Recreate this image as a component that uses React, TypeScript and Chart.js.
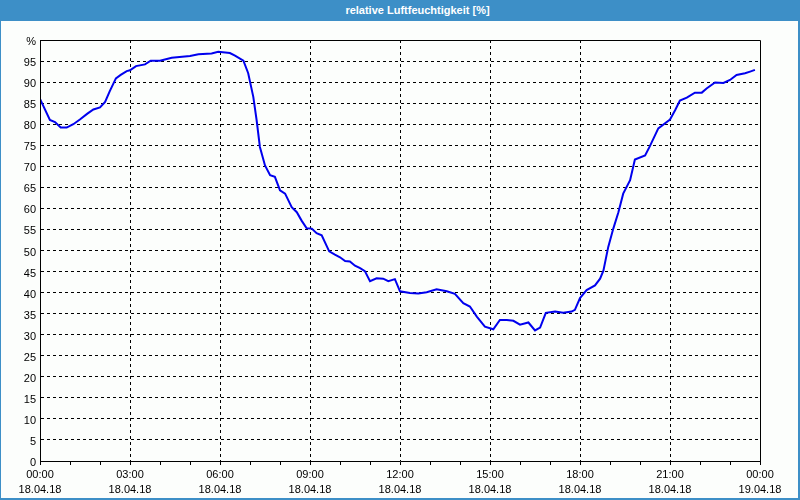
import React, { useEffect, useRef } from "react";
import { Chart, registerables } from "chart.js";

Chart.register(...registerables);

const chartTitle = "relative Luftfeuchtigkeit [%]";
const yUnitLabel = "%";

// time of day in hours since 18.04.18 00:00
const hours = [
  0.0, 0.33, 0.5, 0.69, 0.89, 1.11, 1.33, 1.58, 1.78, 2.0, 2.17, 2.33, 2.53, 2.69, 2.89, 3.0,
  3.2, 3.5, 3.69, 4.0, 4.39, 5.0, 5.28, 5.72, 5.94, 6.33, 6.5, 6.78, 6.94, 7.11, 7.22, 7.33,
  7.5, 7.67, 7.83, 8.0, 8.17, 8.39, 8.56, 8.72, 8.89, 9.06, 9.22, 9.39, 9.64, 9.83, 10.0,
  10.17, 10.33, 10.5, 10.67, 10.83, 11.0, 11.22, 11.44, 11.61, 11.83, 12.0, 12.33, 12.61,
  12.89, 13.22, 13.56, 13.83, 14.11, 14.33, 14.56, 14.83, 15.11, 15.33, 15.56, 15.78, 16.0,
  16.28, 16.5, 16.67, 16.86, 17.17, 17.44, 17.72, 17.83, 18.0, 18.22, 18.5, 18.67, 18.78,
  18.94, 19.11, 19.28, 19.44, 19.67, 19.83, 20.17, 20.33, 20.61, 21.0, 21.17, 21.33, 21.56,
  21.83, 22.06, 22.22, 22.5, 22.78, 23.0, 23.22, 23.5, 23.67, 23.83,
];

// relative humidity in %
const humidity = [
  86.0, 81.0, 80.5, 79.2, 79.2, 80.0, 81.1, 82.5, 83.5, 84.0, 85.3, 87.9, 90.9, 91.7, 92.6, 92.8,
  93.8, 94.2, 95.1, 95.1, 95.8, 96.2, 96.6, 96.8, 97.2, 96.9, 96.3, 95.1, 92.1, 86.5, 81.0, 74.6,
  70.2, 67.9, 67.5, 64.3, 63.5, 60.3, 59.1, 57.1, 55.3, 55.2, 54.1, 53.6, 49.8, 49.0, 48.4,
  47.5, 47.4, 46.4, 45.8, 45.1, 42.7, 43.4, 43.3, 42.7, 43.2, 40.3, 39.9, 39.8,
  40.1, 40.8, 40.3, 39.7, 37.5, 36.7, 34.3, 31.9, 31.3, 33.5, 33.5, 33.3, 32.4,
  32.9, 31.0, 31.7, 35.2, 35.5, 35.2, 35.5, 35.9, 38.7, 40.6, 41.7, 43.3, 45.2,
  50.8, 55.2, 59.1, 63.5, 66.7, 71.6, 72.6, 74.8, 79.0, 81.1, 83.3, 85.6, 86.3,
  87.5, 87.5, 88.5, 89.9, 89.8, 90.5, 91.7, 92.1, 92.5, 92.9,
];

const xLabelHours = [0, 3, 6, 9, 12, 15, 18, 21, 24];
const timeLabels = ["00:00", "03:00", "06:00", "09:00", "12:00", "15:00", "18:00", "21:00", "00:00"];
const dateLabels = [
  "18.04.18", "18.04.18", "18.04.18", "18.04.18", "18.04.18",
  "18.04.18", "18.04.18", "18.04.18", "19.04.18",
];

const FONT = "'Liberation Sans', Arial, sans-serif";

const framePlugin = {
  id: "frame",
  afterDatasetsDraw(chart: any) {
    const { ctx, chartArea } = chart;
    const l = Math.round(chartArea.left) + 0.5;
    const t = Math.round(chartArea.top) + 0.5;
    const r = Math.round(chartArea.right) + 0.5;
    const b = Math.round(chartArea.bottom) + 0.5;
    ctx.save();
    ctx.strokeStyle = "#000";
    ctx.lineWidth = 1;
    ctx.beginPath();
    ctx.moveTo(l, b);
    ctx.lineTo(l, t);
    ctx.lineTo(r, t);
    ctx.lineTo(r, b);
    ctx.stroke();
    ctx.restore();
  },
};

export default function App() {
  const ref = useRef<HTMLCanvasElement | null>(null);

  useEffect(() => {
    if (!ref.current) return;
    const chart = new Chart(ref.current, {
      type: "line",
      data: {
        datasets: [
          {
            data: hours.map((h, i) => ({ x: h, y: humidity[i] })),
            borderColor: "#0000ee",
            borderWidth: 2,
            pointRadius: 0,
            tension: 0,
            fill: false,
          },
        ],
      },
      options: {
        animation: false,
        responsive: false,
        devicePixelRatio: 1,
        layout: { padding: { top: 19, right: 38, left: 0, bottom: 0 } },
        plugins: {
          legend: { display: false },
          title: { display: false },
          tooltip: { enabled: false },
        },
        scales: {
          x: {
            type: "linear",
            min: 0,
            max: 24,
            afterFit: (s: any) => {
              s.height = 37;
            },
            afterBuildTicks: (s: any) => {
              const t = [];
              for (let h = 0; h <= 24; h++) t.push({ value: h });
              s.ticks = t;
            },
            ticks: {
              autoSkip: false,
              maxRotation: 0,
              minRotation: 0,
              padding: 3,
              color: "#000",
              font: { family: FONT, size: 11, lineHeight: 1.35 },
              callback: (v: any) => {
                const idx = xLabelHours.indexOf(Number(v));
                return idx >= 0 ? [timeLabels[idx], dateLabels[idx]] : "";
              },
            },
            grid: {
              color: (c: any) => {
                const v = c.tick ? c.tick.value : -1;
                return v % 3 === 0 && v !== 0 && v !== 24 ? "#000" : "rgba(0,0,0,0)";
              },
              tickColor: "#000",
              tickLength: 4,
              tickBorderDash: [],
            },
            border: { display: true, color: "#000", dash: [3, 3] },
          },
          y: {
            type: "linear",
            min: 0,
            max: 100,
            afterFit: (s: any) => {
              s.width = 39;
            },
            ticks: {
              stepSize: 5,
              padding: 4,
              labelOffset: 2,
              color: "#000",
              font: { family: FONT, size: 11 },
              callback: (v: any) => (Number(v) === 100 ? yUnitLabel : String(v)),
            },
            grid: {
              drawTicks: false,
              color: (c: any) => {
                const v = c.tick ? c.tick.value : -1;
                return v > 0 && v < 100 ? "#000" : "rgba(0,0,0,0)";
              },
            },
            border: { display: true, color: "#000", dash: [3, 3] },
          },
        },
      },
      plugins: [framePlugin],
    });
    return () => chart.destroy();
  }, []);

  return (
    <div
      style={{
        position: "fixed",
        left: 0,
        top: 0,
        width: 800,
        height: 500,
        boxSizing: "border-box",
        borderLeft: "1px solid #3d8fc7",
        borderRight: "2px solid #3d8fc7",
        borderBottom: "2px solid #3d8fc7",
        background: "#fcfefc",
        overflow: "hidden",
      }}
    >
      <div
        style={{
          height: 21,
          lineHeight: "21px",
          background: "#3d8fc7",
          color: "#fff",
          fontFamily: FONT,
          fontWeight: "bold",
          fontSize: 11,
          textAlign: "center",
          paddingLeft: 36,
          boxSizing: "border-box",
        }}
      >
        {chartTitle}
      </div>
      <canvas ref={ref} width={797} height={477} style={{ display: "block", width: 797, height: 477 }} />
    </div>
  );
}
